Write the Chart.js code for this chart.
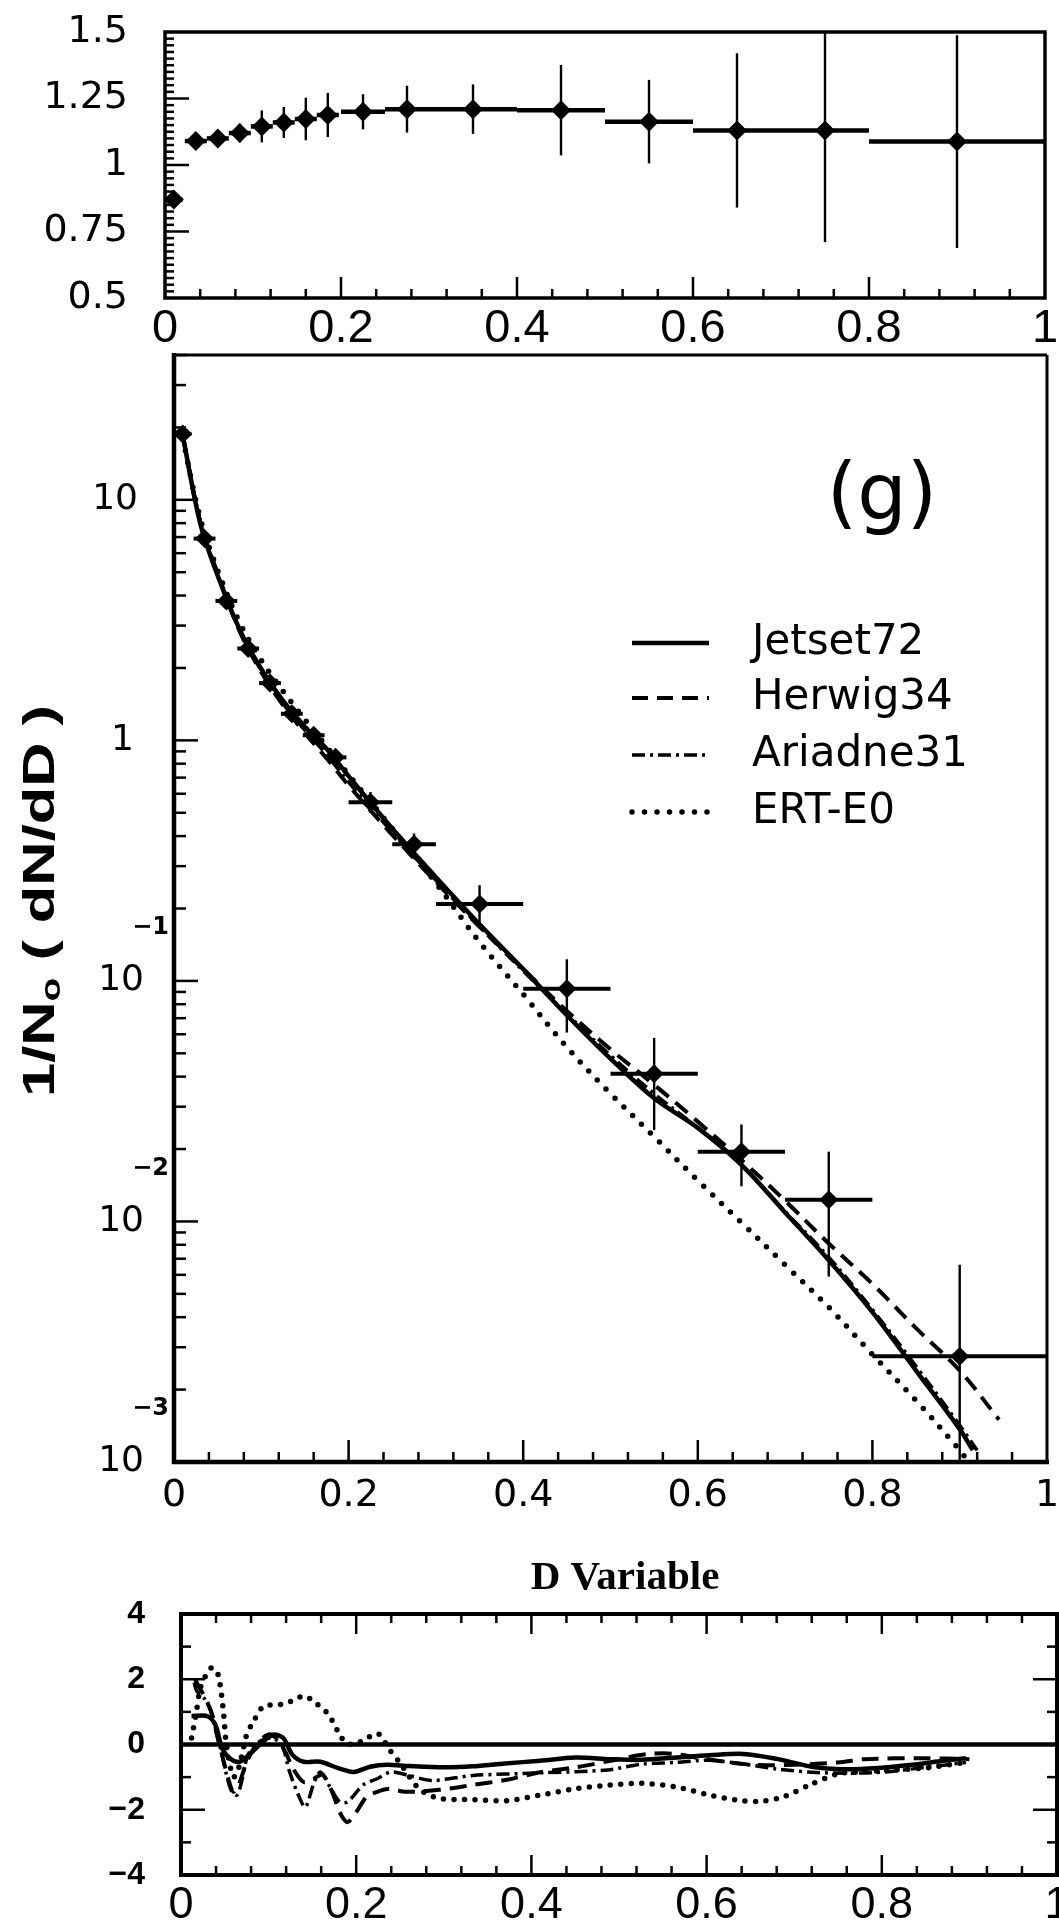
<!DOCTYPE html>
<html>
<head>
<meta charset="utf-8">
<script src="https://cdn.jsdelivr.net/npm/chart.js@4.4.1/dist/chart.umd.min.js"></script>
<style>
  html, body { margin: 0; padding: 0; background: #fff; }
  #wrap { position: relative; width: 1059px; height: 1932px; overflow: hidden; background: #fff; }
  #wrap canvas { position: absolute; left: 0; top: 0; }
</style>
</head>
<body>
<div id="wrap">
  <canvas id="ratioChart" width="1059" height="1932"></canvas>
  <canvas id="mainChart" width="1059" height="1932"></canvas>
  <canvas id="pullChart" width="1059" height="1932"></canvas>
</div>
<script>
// ── Data: bins (shared by the ratio panel and the spectrum) ──
const binX    = [0.01, 0.035, 0.06, 0.085, 0.11, 0.135, 0.16, 0.185, 0.225, 0.275, 0.35, 0.45, 0.55, 0.65, 0.75, 0.9];
const binHalf = [0.01, 0.0125, 0.0125, 0.0125, 0.0125, 0.0125, 0.0125, 0.0125, 0.025, 0.025, 0.05, 0.05, 0.05, 0.05, 0.05, 0.1];

// top panel ratio
const ratioVal = [0.87, 1.09, 1.10, 1.12, 1.145, 1.16, 1.173, 1.188, 1.20, 1.21, 1.21, 1.206, 1.163, 1.13, 1.13, 1.088];
const ratioErr = [0.01, 0.012, 0.02, 0.035, 0.06, 0.058, 0.08, 0.083, 0.066, 0.088, 0.093, 0.17, 0.157, 0.29, 0.42, 0.40];

// main panel data 1/N0 dN/dD
const dataVal = [18.8, 6.9, 3.8, 2.41, 1.73, 1.29, 1.05, 0.85, 0.553, 0.37, 0.209, 0.0927, 0.0411, 0.0195, 0.0123, 0.00275];
const dataLo  = [18.3, 6.7, 3.7, 2.33, 1.66, 1.22, 0.98, 0.79, 0.50, 0.33, 0.174, 0.061, 0.024, 0.014, 0.0059, 0.0004];
const dataHi  = [19.3, 7.1, 3.9, 2.49, 1.80, 1.36, 1.12, 0.91, 0.61, 0.41, 0.25, 0.123, 0.058, 0.0253, 0.0195, 0.0066];

// main panel model curves
const jetsetX  = [0.01, 0.03, 0.05, 0.075, 0.1, 0.125, 0.15, 0.175, 0.2, 0.25, 0.3, 0.35, 0.4, 0.45, 0.5, 0.55, 0.6, 0.65, 0.7, 0.75, 0.8, 0.85, 0.9, 0.915];
const jetsetY  = [18.5, 8.0, 4.85, 2.9, 1.98, 1.46, 1.14, 0.92, 0.71, 0.43, 0.27, 0.172, 0.112, 0.072, 0.0475, 0.0325, 0.0245, 0.0172, 0.0109, 0.0069, 0.0042, 0.0024, 0.00137, 0.00112];
const herwigX  = [0.01, 0.03, 0.05, 0.075, 0.1, 0.125, 0.15, 0.175, 0.2, 0.25, 0.3, 0.35, 0.4, 0.45, 0.5, 0.55, 0.6, 0.65, 0.7, 0.75, 0.8, 0.85, 0.9, 0.945];
const herwigY  = [18.5, 8.1, 4.95, 2.85, 1.92, 1.40, 1.07, 0.84, 0.65, 0.405, 0.258, 0.168, 0.112, 0.075, 0.052, 0.037, 0.026, 0.018, 0.0122, 0.0081, 0.0055, 0.0036, 0.0024, 0.0015];
const ariadneX = [0.01, 0.03, 0.05, 0.075, 0.1, 0.125, 0.15, 0.175, 0.2, 0.25, 0.3, 0.35, 0.4, 0.45, 0.5, 0.55, 0.6, 0.65, 0.7, 0.75, 0.8, 0.85, 0.9, 0.92];
const ariadneY = [18.6, 8.2, 4.9, 2.88, 1.95, 1.42, 1.10, 0.87, 0.67, 0.415, 0.262, 0.168, 0.11, 0.073, 0.049, 0.034, 0.0245, 0.0172, 0.011, 0.0071, 0.0043, 0.0025, 0.00142, 0.00112];
const ertX     = [0.01, 0.03, 0.05, 0.075, 0.1, 0.125, 0.15, 0.175, 0.2, 0.25, 0.3, 0.35, 0.4, 0.45, 0.5, 0.55, 0.6, 0.65, 0.7, 0.75, 0.8, 0.85, 0.9, 0.91];
const ertY     = [18.0, 8.4, 5.1, 3.1, 2.15, 1.6, 1.22, 0.94, 0.72, 0.43, 0.255, 0.145, 0.088, 0.053, 0.034, 0.0225, 0.0148, 0.0099, 0.0066, 0.0044, 0.0028, 0.0018, 0.00112, 0.001];

// bottom panel (data - model) / error
const pullJetX = [0.012, 0.03, 0.039, 0.047, 0.056, 0.067, 0.079, 0.09, 0.105, 0.117, 0.127, 0.14, 0.159, 0.181, 0.197, 0.216, 0.235, 0.26, 0.3, 0.333, 0.37, 0.41, 0.45, 0.49, 0.526, 0.565, 0.603, 0.642, 0.68, 0.72, 0.758, 0.796, 0.835, 0.87, 0.896];
const pullJetY = [0.87, 0.87, 0.62, -0.12, -0.43, -0.53, -0.28, 0.0, 0.3, 0.19, -0.31, -0.53, -0.53, -0.74, -0.84, -0.68, -0.62, -0.66, -0.7, -0.67, -0.58, -0.5, -0.4, -0.45, -0.47, -0.4, -0.33, -0.29, -0.44, -0.68, -0.76, -0.72, -0.62, -0.5, -0.42];
const pullHerX = [0.016, 0.022, 0.03, 0.037, 0.042, 0.048, 0.054, 0.06, 0.067, 0.075, 0.087, 0.1, 0.109, 0.119, 0.128, 0.14, 0.151, 0.162, 0.174, 0.181, 0.19, 0.2, 0.212, 0.224, 0.238, 0.256, 0.295, 0.333, 0.372, 0.41, 0.45, 0.5, 0.53, 0.56, 0.6, 0.65, 0.7, 0.75, 0.78, 0.85, 0.9];
const pullHerY = [2.0, 1.7, 1.3, 0.8, 0.19, -0.43, -1.05, -1.45, -1.15, -0.53, 0.03, 0.31, 0.19, -0.22, -0.74, -1.15, -1.05, -0.93, -1.55, -2.07, -2.38, -2.07, -1.6, -1.45, -1.36, -1.45, -1.39, -1.24, -1.08, -0.85, -0.7, -0.45, -0.3, -0.28, -0.45, -0.62, -0.62, -0.55, -0.45, -0.42, -0.45];
const pullAriX = [0.015, 0.018, 0.027, 0.033, 0.039, 0.045, 0.052, 0.058, 0.064, 0.07, 0.075, 0.082, 0.094, 0.105, 0.115, 0.124, 0.134, 0.142, 0.151, 0.159, 0.17, 0.181, 0.19, 0.208, 0.224, 0.24, 0.26, 0.287, 0.333, 0.41, 0.487, 0.526, 0.565, 0.603, 0.642, 0.68, 0.72, 0.76, 0.8, 0.85, 0.896];
const pullAriY = [1.9, 1.64, 1.4, 1.1, 0.5, -0.12, -0.93, -1.45, -1.55, -1.05, -0.43, -0.06, 0.15, 0.19, 0.0, -0.84, -1.55, -1.92, -1.24, -0.84, -1.3, -1.76, -1.76, -1.24, -1.05, -0.84, -0.95, -1.1, -0.95, -0.87, -0.78, -0.6, -0.55, -0.48, -0.6, -0.75, -0.85, -0.88, -0.85, -0.7, -0.55];
const pullErtX = [0.012, 0.017, 0.022, 0.028, 0.035, 0.042, 0.048, 0.051, 0.055, 0.06, 0.066, 0.075, 0.081, 0.094, 0.105, 0.117, 0.128, 0.14, 0.151, 0.168, 0.181, 0.189, 0.2, 0.212, 0.224, 0.231, 0.237, 0.249, 0.272, 0.295, 0.333, 0.372, 0.41, 0.449, 0.487, 0.526, 0.565, 0.603, 0.642, 0.666, 0.688, 0.72, 0.75, 0.77, 0.8, 0.85, 0.896];
const pullErtY = [0.2, 0.9, 1.73, 2.1, 2.35, 2.17, 1.12, 0.19, -0.5, -1.0, -0.7, 0.31, 0.62, 1.18, 1.21, 1.24, 1.35, 1.49, 1.33, 0.93, 0.31, 0.03, 0.03, 0.19, 0.34, 0.15, -0.12, -0.53, -1.36, -1.65, -1.69, -1.72, -1.55, -1.36, -1.25, -1.19, -1.3, -1.55, -1.73, -1.73, -1.6, -1.21, -0.9, -0.85, -0.8, -0.72, -0.55];

// ── Tick labels ──
const xTickVals   = [0, 0.2, 0.4, 0.6, 0.8, 1];
const xTickLabels = ['0', '0.2', '0.4', '0.6', '0.8', '1'];
const ratioTickVals   = [0.5, 0.75, 1, 1.25, 1.5];
const ratioTickLabels = ['0.5', '0.75', '1', '1.25', '1.5'];
const mainTickVals  = [0.001, 0.01, 0.1, 1, 10];
const mainTickBase  = ['10', '10', '10', '1', '10'];
const mainTickExp   = ['−3', '−2', '−1', '', ''];
const pullTickVals   = [-4, -2, 0, 2, 4];
const pullTickLabels = ['−4', '−2', '0', '2', '4'];

const W = 1059, H = 1932;
const pts = (xs, ys) => xs.map((x, i) => ({ x, y: ys[i] }));

function seg(ctx, x1, y1, x2, y2) {
    ctx.beginPath(); ctx.moveTo(x1, y1); ctx.lineTo(x2, y2); ctx.stroke();
}

// x ticks every 0.04, long ones on 0.2
function xTicks(ctx, x, yPos, dir, longLen, shortLen) {
    for (let i = 1; i < 25; i++) {
        const px = x.getPixelForValue(i * 0.04);
        seg(ctx, px, yPos, px, yPos + dir * (i % 5 === 0 ? longLen : shortLen));
    }
}

// ── error bars drawn through the chart scales ──
const errorBars = {
    id: 'errorBars',
    afterDatasetsDraw(chart) {
        const { ctx, chartArea: a, scales: { x, y } } = chart;
        ctx.save();
        ctx.beginPath(); ctx.rect(a.left, a.top, a.right - a.left, a.bottom - a.top); ctx.clip();
        ctx.strokeStyle = '#000';
        chart.data.datasets.forEach(ds => {
            if (!ds.xHalf) return;
            ds.data.forEach((p, i) => {
                const px = x.getPixelForValue(p.x), py = y.getPixelForValue(p.y);
                ctx.lineWidth = ds.hBar;
                seg(ctx, x.getPixelForValue(p.x - ds.xHalf[i]), py, x.getPixelForValue(p.x + ds.xHalf[i]), py);
                ctx.lineWidth = ds.vBar;
                seg(ctx, px, y.getPixelForValue(ds.yLo[i]), px, y.getPixelForValue(ds.yHi[i]));
            });
        });
        ctx.restore();
    }
};

const baseOpts = (pad, yScale) => ({
    responsive: false,
    animation: false,
    devicePixelRatio: 1,
    events: [],
    layout: { padding: pad },
    plugins: { legend: { display: false }, tooltip: { enabled: false } },
    scales: {
        x: { type: 'linear', min: 0, max: 1, display: false },
        y: Object.assign({ display: false }, yScale)
    }
});

// ── Top panel: ratio ──
const ratioAxes = {
    id: 'ratioAxes',
    afterDraw(chart) {
        const { ctx, chartArea: a, scales: { x, y } } = chart;
        ctx.save();
        ctx.strokeStyle = '#000'; ctx.fillStyle = '#000';
        ctx.lineWidth = 2.5;
        for (let i = 1; i < 40; i++) {
            const v = 0.5 + i * 0.025;
            const py = y.getPixelForValue(v);
            seg(ctx, a.left, py, a.left + (i % 10 === 0 ? 24 : 9), py);
        }
        xTicks(ctx, x, a.bottom, -1, 21, 9);
        ctx.lineWidth = 3.5;
        ctx.strokeRect(a.left, a.top, a.right - a.left, a.bottom - a.top);

        ctx.font = '38px "DejaVu Sans"';
        ctx.textAlign = 'right'; ctx.textBaseline = 'middle';
        ratioTickVals.forEach((v, i) => ctx.fillText(ratioTickLabels[i], a.left - 37, y.getPixelForValue(v)));
        ctx.font = '47px "Liberation Sans"';
        ctx.textAlign = 'center';
        xTickVals.forEach((v, i) => ctx.fillText(xTickLabels[i], x.getPixelForValue(v), a.bottom + 31));
        ctx.restore();
    }
};

new Chart(document.getElementById('ratioChart'), {
    type: 'line',
    data: {
        datasets: [{
            label: 'ratio',
            data: pts(binX, ratioVal),
            showLine: false,
            pointStyle: 'rectRot',
            pointRadius: 10,
            backgroundColor: '#000',
            borderColor: '#000',
            borderWidth: 0,
            xHalf: binHalf,
            yLo: ratioVal.map((v, i) => v - ratioErr[i]),
            yHi: ratioVal.map((v, i) => v + ratioErr[i]),
            hBar: 4.5, vBar: 2.4
        }]
    },
    options: baseOpts({ left: 165, right: W - 1045, top: 32, bottom: H - 298 }, { type: 'linear', min: 0.5, max: 1.5 }),
    plugins: [errorBars, ratioAxes]
});

// ── Main panel: 1/N0 dN/dD ──
const legendRows = [643, 698, 755, 812];

const mainAxes = {
    id: 'mainAxes',
    afterDraw(chart) {
        const { ctx, chartArea: a, scales: { x, y } } = chart;
        ctx.save();
        ctx.strokeStyle = '#000'; ctx.fillStyle = '#000';
        ctx.lineWidth = 2.5;
        for (let d = -3; d <= 1; d++) {
            for (let m = 1; m <= 9; m++) {
                const v = m * Math.pow(10, d);
                if (v > y.max) continue;
                const py = y.getPixelForValue(v);
                seg(ctx, a.left, py, a.left + (m === 1 ? 24 : 12), py);
            }
        }
        xTicks(ctx, x, a.bottom, -1, 22, 10);
        ctx.lineWidth = 3;
        seg(ctx, a.left, a.top, a.right, a.top);
        seg(ctx, a.right, a.top, a.right, a.bottom);
        ctx.lineWidth = 4.5;
        seg(ctx, a.left, a.top - 2, a.left, a.bottom + 2);
        seg(ctx, a.left - 2, a.bottom, a.right + 2, a.bottom);

        // tick labels
        ctx.textBaseline = 'middle';
        ctx.textAlign = 'right';
        mainTickVals.forEach((v, i) => {
            const py = y.getPixelForValue(v);
            ctx.font = '36px "DejaVu Sans"';
            if (mainTickExp[i]) {
                ctx.fillText(mainTickBase[i], a.left - 30, py);
                ctx.font = 'bold 24px "DejaVu Sans"';
                ctx.fillText(mainTickExp[i], a.left - 5, py - 53);
            } else {
                ctx.fillText(mainTickBase[i], a.left - (mainTickBase[i] === '1' ? 40 : 36), py);
            }
        });
        ctx.textAlign = 'center';
        ctx.font = '38px "DejaVu Sans"';
        xTickVals.forEach((v, i) => ctx.fillText(xTickLabels[i], x.getPixelForValue(v), a.bottom + 34));

        // x title
        ctx.font = 'bold 41px "Liberation Serif"';
        ctx.fillText('D Variable', 625, 1578);

        // panel tag
        ctx.font = '78px "DejaVu Sans"';
        ctx.fillText('(g)', 882, 499);

        // legend
        chart.data.datasets.forEach((ds, i) => {
            if (ds.xHalf) return;
            const ry = legendRows[i];
            ctx.save();
            ctx.lineWidth = ds.borderWidth;
            ctx.setLineDash(ds.borderDash || []);
            ctx.lineCap = ds.borderCapStyle || 'butt';
            seg(ctx, 632, ry, 709, ry);
            ctx.restore();
            ctx.font = '42px "DejaVu Sans"';
            ctx.textAlign = 'left';
            ctx.fillText(ds.label, 752, ry);
        });

        // y title, rotated
        ctx.save();
        ctx.translate(54, 901);
        ctx.rotate(-Math.PI / 2);
        const big = 'bold 44px "Liberation Sans"', small = 'bold 28px "Liberation Sans"';
        const parts = [['1/N', big, 0], ['o', small, 6], [' ( dN/dD )', big, 0]];
        let total = 0;
        parts.forEach(p => { ctx.font = p[1]; total += ctx.measureText(p[0]).width; });
        ctx.scale(392 / total, 1);
        ctx.textAlign = 'left'; ctx.textBaseline = 'alphabetic';
        let cx = -total / 2;
        parts.forEach(p => { ctx.font = p[1]; ctx.fillText(p[0], cx, p[2]); cx += ctx.measureText(p[0]).width; });
        ctx.restore();

        ctx.restore();
    }
};

const curve = (label, xs, ys, extra) => Object.assign({
    label,
    data: pts(xs, ys),
    borderColor: '#000',
    borderWidth: 4.5,
    pointRadius: 0,
    tension: 0.35,
    fill: false
}, extra);

new Chart(document.getElementById('mainChart'), {
    type: 'line',
    data: {
        datasets: [
            curve('Jetset72', jetsetX, jetsetY, {}),
            curve('Herwig34', herwigX, herwigY, { borderDash: [16, 9], borderWidth: 4 }),
            curve('Ariadne31', ariadneX, ariadneY, { borderDash: [13, 5, 3, 5], borderWidth: 3.5 }),
            curve('ERT-E0', ertX, ertY, { borderDash: [0, 12.5], borderCapStyle: 'round', borderWidth: 5.5 }),
            {
                label: 'data',
                data: pts(binX, dataVal),
                showLine: false,
                pointStyle: 'rectRot',
                pointRadius: 9.5,
                backgroundColor: '#000',
                borderColor: '#000',
                borderWidth: 0,
                xHalf: binHalf,
                yLo: dataLo,
                yHi: dataHi,
                hBar: 4, vBar: 2.4
            }
        ]
    },
    options: baseOpts({ left: 174, right: W - 1047, top: 355, bottom: H - 1462 }, { type: 'logarithmic', min: 0.001, max: 40 }),
    plugins: [errorBars, mainAxes]
});

// ── Bottom panel: pulls ──
const pullAxes = {
    id: 'pullAxes',
    afterDraw(chart) {
        const { ctx, chartArea: a, scales: { x, y } } = chart;
        ctx.save();
        ctx.strokeStyle = '#000'; ctx.fillStyle = '#000';
        ctx.lineWidth = 2.5;
        [-3, -2, -1, 1, 2, 3].forEach(v => {
            const py = y.getPixelForValue(v);
            const len = v % 2 === 0 ? 24 : 10;
            seg(ctx, a.left, py, a.left + len, py);
            seg(ctx, a.right, py, a.right - len, py);
        });
        xTicks(ctx, x, a.bottom, -1, 20, 9);
        xTicks(ctx, x, a.top, 1, 20, 9);
        ctx.lineWidth = 4;
        ctx.strokeRect(a.left, a.top, a.right - a.left, a.bottom - a.top);

        ctx.font = 'bold 32px "Liberation Sans"';
        ctx.textAlign = 'right'; ctx.textBaseline = 'middle';
        pullTickVals.forEach((v, i) => ctx.fillText(pullTickLabels[i], a.left - 36, y.getPixelForValue(v)));
        ctx.font = '45px "Liberation Sans"';
        ctx.textAlign = 'center';
        xTickVals.forEach((v, i) => ctx.fillText(xTickLabels[i], x.getPixelForValue(v), a.bottom + 31));
        ctx.restore();
    }
};

new Chart(document.getElementById('pullChart'), {
    type: 'line',
    data: {
        datasets: [
            curve('zero', [0, 1], [0, 0], { borderWidth: 4.5, tension: 0 }),
            curve('Jetset72', pullJetX, pullJetY, { tension: 0.3 }),
            curve('Herwig34', pullHerX, pullHerY, { borderDash: [17, 9], borderWidth: 4, tension: 0.3 }),
            curve('Ariadne31', pullAriX, pullAriY, { borderDash: [13, 5, 3, 5], borderWidth: 3.5, tension: 0.3 }),
            curve('ERT-E0', pullErtX, pullErtY, { borderDash: [0, 10.5], borderCapStyle: 'round', borderWidth: 5.5, tension: 0.3 })
        ]
    },
    options: baseOpts({ left: 181, right: W - 1057, top: 1614, bottom: H - 1875 }, { type: 'linear', min: -4, max: 4 }),
    plugins: [pullAxes]
});
</script>
</body>
</html>
